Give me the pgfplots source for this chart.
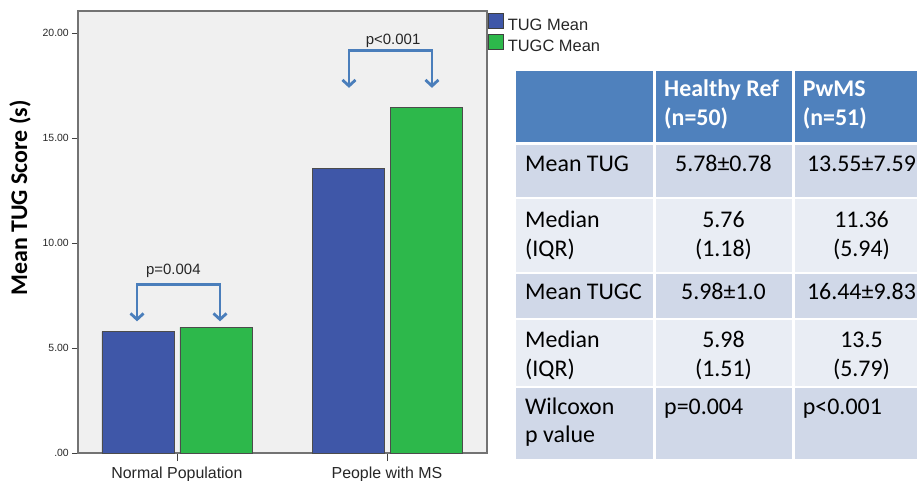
\documentclass[border=0pt]{standalone}
\usepackage{pgfplots}
\pgfplotsset{compat=1.18}
\usepackage{fontspec}
\setmainfont{Liberation Sans}
\newfontfamily\calibri{Carlito}
\usetikzlibrary{arrows.meta}
\definecolor{tugblue}{HTML}{3F57A8}
\definecolor{tugcgreen}{HTML}{2DB84B}
\definecolor{plotbg}{HTML}{F0F0F0}
\definecolor{arrowblue}{HTML}{4A7EBB}
\definecolor{hdr}{HTML}{4F81BD}
\definecolor{rowA}{HTML}{D0D8E8}
\definecolor{rowB}{HTML}{E9EDF4}
\newcommand{\cellfill}[5]{\fill[#5] (#1bp,-#2bp) rectangle (#3bp,-#4bp);}
\begin{document}
\begin{tikzpicture}
\path[use as bounding box] (0bp,0bp) rectangle (917bp,-481bp);
\begin{axis}[
  at={(78bp,-453bp)}, anchor=south west,
  scale only axis, width=409bp, height=442bp,
  xmin=-0.471, xmax=1.476, ymin=0, ymax=21.05,
  axis background/.style={fill=plotbg},
  axis line style={draw=black!55, line width=1.2bp},
  ybar, bar width=72bp,
  xtick={0,1}, xticklabels={Normal Population, People with MS},
  ytick={0,5,10,15,20}, yticklabels={.00,5.00,10.00,15.00,20.00},
  tick align=outside, xtick pos=left, ytick pos=left,
  major tick length=6bp,
  xtick style={/pgfplots/major tick length=8bp},
  tick style={draw=black!75, line width=0.8bp},
  yticklabel style={font=\fontsize{10.5}{12}\selectfont, inner sep=0pt, xshift=-3bp, text=black!85},
  xticklabel style={font=\fontsize{16}{18}\selectfont, text=black!85, yshift=-4bp},
  /pgf/number format/assume math mode=true,
  legend style={at={(1,1)}, anchor=north west, xshift=1bp, yshift=-2bp, draw=none, fill=none,
    inner sep=0pt, outer sep=0pt, font=\fontsize{16.5}{18}\selectfont,
    nodes={inner sep=0pt, text height=12bp, text depth=4bp, text=black!85},
    row sep=0bp, column sep=4bp},
  legend cell align=left,
  clip=false,
]
\addplot[fill=tugblue, draw=black!70, line width=0.8bp, bar shift=-39bp,
  legend image code/.code={\draw[fill=tugblue, draw=black!75, line width=0.8bp] (0bp,-2bp) rectangle (15bp,13bp);}]
  coordinates {(0,5.78) (1,13.55)};
\addplot[fill=tugcgreen, draw=black!70, line width=0.8bp, bar shift=39bp,
  legend image code/.code={\draw[fill=tugcgreen, draw=black!75, line width=0.8bp] (0bp,-2bp) rectangle (15bp,13bp);}]
  coordinates {(0,5.98) (1,16.44)};
\legend{TUG Mean, TUGC Mean}
\draw[arrowblue, line width=2.8bp, {Straight Barb[length=6bp,width=13bp]}-{Straight Barb[length=6bp,width=13bp]}]
  (axis cs:-0.19,6.27) |- (axis cs:0.205,8.01) -- (axis cs:0.205,6.27);
\draw[arrowblue, line width=2.8bp, {Straight Barb[length=6bp,width=13bp]}-{Straight Barb[length=6bp,width=13bp]}]
  (axis cs:0.819,17.39) |- (axis cs:1.214,19.16) -- (axis cs:1.214,17.39);
\node[anchor=base, inner sep=0pt, font=\fontsize{15}{16}\selectfont, text=black!85] at (axis cs:-0.017,8.49) {p=0.004};
\node[anchor=base, inner sep=0pt, font=\fontsize{15}{16}\selectfont, text=black!85] at (axis cs:1.029,19.44) {p<0.001};
\end{axis}
\node[rotate=90, inner sep=0pt, font=\calibri\bfseries\fontsize{24}{29}\selectfont] at (20bp,-198bp) {Mean TUG Score (s)};
% table
\cellfill{516}{71}{653}{142}{hdr}
\cellfill{655.5}{71}{792}{142}{hdr}
\cellfill{794.5}{71}{930}{142}{hdr}
\cellfill{516}{145}{653}{197}{rowA}
\cellfill{655.5}{145}{792}{197}{rowA}
\cellfill{794.5}{145}{930}{197}{rowA}
\cellfill{516}{199}{653}{271.5}{rowB}
\cellfill{655.5}{199}{792}{271.5}{rowB}
\cellfill{794.5}{199}{930}{271.5}{rowB}
\cellfill{516}{273.5}{653}{318}{rowA}
\cellfill{655.5}{273.5}{792}{318}{rowA}
\cellfill{794.5}{273.5}{930}{318}{rowA}
\cellfill{516}{320}{653}{386}{rowB}
\cellfill{655.5}{320}{792}{386}{rowB}
\cellfill{794.5}{320}{930}{386}{rowB}
\cellfill{516}{388}{653}{459}{rowA}
\cellfill{655.5}{388}{792}{459}{rowA}
\cellfill{794.5}{388}{930}{459}{rowA}
\begin{scope}[every node/.style={inner sep=0pt, font=\calibri\fontsize{24}{29}\selectfont}]
\node[anchor=base west, text=white, font=\calibri\bfseries\fontsize{24}{29}\selectfont] at (664bp,-96.7bp) {Healthy Ref};
\node[anchor=base west, text=white, font=\calibri\bfseries\fontsize{24}{29}\selectfont] at (664bp,-125.7bp) {(n=50)};
\node[anchor=base west, text=white, font=\calibri\bfseries\fontsize{24}{29}\selectfont] at (802.7bp,-96.7bp) {PwMS};
\node[anchor=base west, text=white, font=\calibri\bfseries\fontsize{24}{29}\selectfont] at (802.7bp,-125.7bp) {(n=51)};
\node[anchor=base west] at (525bp,-171bp) {Mean TUG};
\node[anchor=base west] at (525bp,-227bp) {Median};
\node[anchor=base west] at (525bp,-256bp) {(IQR)};
\node[anchor=base west] at (525bp,-299.3bp) {Mean TUGC};
\node[anchor=base west] at (525bp,-347.3bp) {Median};
\node[anchor=base west] at (525bp,-376bp) {(IQR)};
\node[anchor=base west] at (525bp,-414bp) {Wilcoxon};
\node[anchor=base west] at (525bp,-442.7bp) {p value};
\node[anchor=base] at (723.5bp,-171bp) {5.78±0.78};
\node[anchor=base] at (723.5bp,-227bp) {5.76};
\node[anchor=base] at (723.5bp,-256bp) {(1.18)};
\node[anchor=base] at (723.5bp,-299.3bp) {5.98±1.0};
\node[anchor=base] at (723.5bp,-347.3bp) {5.98};
\node[anchor=base] at (723.5bp,-376bp) {(1.51)};
\node[anchor=base west] at (664bp,-414bp) {p=0.004};
\node[anchor=base] at (861.5bp,-171bp) {13.55±7.59};
\node[anchor=base] at (861.5bp,-227bp) {11.36};
\node[anchor=base] at (861.5bp,-256bp) {(5.94)};
\node[anchor=base] at (861.5bp,-299.3bp) {16.44±9.83};
\node[anchor=base] at (861.5bp,-347.3bp) {13.5};
\node[anchor=base] at (861.5bp,-376bp) {(5.79)};
\node[anchor=base west] at (802.7bp,-414bp) {p<0.001};
\end{scope}
\end{tikzpicture}
\end{document}
